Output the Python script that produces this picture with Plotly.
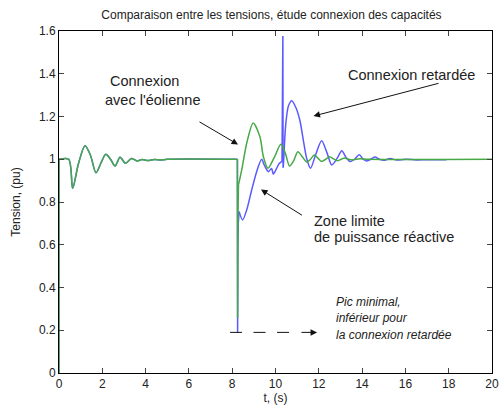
import plotly.graph_objects as go

# ---------------- data ----------------
# common part before the capacitor connection (both series identical, blue hidden under green)
start_t = [0, 0]
start_v = [0, 1]
pre_t = [0, 0.45, 0.63, 0.9, 1.2, 1.45, 1.71, 1.95, 2.16, 2.38, 2.59, 2.82, 3.08, 3.35, 3.6, 3.85, 4.1, 4.4, 4.7, 5.0, 8.24]
pre_v = [1, 1, 0.864, 0.98, 1.063, 1.02, 0.937, 0.985, 1.023, 1.0, 0.968, 1.009, 0.981, 1.004, 0.992, 0.999, 0.994, 0.999, 0.996, 1.0, 1.0]

# green: "Connexion avec l'éolienne"
gf_t = [8.24, 8.25, 8.26, 8.27, 8.29]
gf_v = [1, 0.256, 0.70, 0.76, 0.88]
gp_t = [8.29, 8.44, 8.67, 8.97, 9.28, 9.44, 9.65, 9.95, 10.25, 10.45, 10.65, 10.85, 11.03, 11.25, 11.44,
        11.62, 11.79, 11.96, 12.13, 12.32, 12.5, 12.68, 12.85, 13.03, 13.2, 13.38, 13.55, 13.72, 13.9, 14.3, 20]
gp_v = [0.88, 0.95, 1.075, 1.17, 1.105, 1.012, 0.958, 1.01, 1.07, 1.03, 0.968, 0.995, 1.035, 1.01, 0.987,
        1.0, 1.02, 1.005, 0.99, 1.0, 1.012, 1.002, 0.993, 1.0, 1.006, 1.0, 0.997, 1.0, 1.002, 1.0, 1.0]

# blue: "Connexion retardée"
bf_t = [8.24, 8.25, 8.26, 8.28, 8.32]
bf_v = [1, 0.19, 0.59, 0.70, 0.755]
bm_t = [8.32, 8.48, 8.67, 8.9, 9.13, 9.36, 9.48, 9.67, 9.82, 9.9, 10.05, 10.17, 10.3]
bm_v = [0.755, 0.716, 0.763, 0.856, 0.942, 1.0, 0.973, 0.942, 0.957, 0.93, 0.957, 0.98, 0.99]
bs_t = [10.3, 10.34, 10.35, 10.37]
bs_v = [0.99, 1.577, 0.96, 0.98]
bp_t = [10.37, 10.48, 10.6, 10.75, 10.95, 11.13, 11.3, 11.45, 11.62, 11.85, 12.13, 12.38, 12.6, 12.85,
        13.06, 13.25, 13.44, 13.65, 13.87, 14.05, 14.2, 14.4, 14.6, 14.8, 15.0, 15.3, 15.6, 16.0, 16.5, 17.0, 17.9]
bp_v = [0.98, 1.17, 1.25, 1.274, 1.24, 1.18, 1.08, 1.0, 0.958, 1.02, 1.087, 1.03, 0.973, 1.005,
        1.04, 1.01, 0.989, 1.0, 1.021, 1.0, 0.992, 1.0, 1.01, 1.0, 0.995, 1.003, 0.996, 1.0, 0.997, 0.998, 0.998]

x_ticks = [0, 2, 4, 6, 8, 10, 12, 14, 16, 18, 20]
y_ticks = [0, 0.2, 0.4, 0.6, 0.8, 1, 1.2, 1.4, 1.6]

GREEN = "#46a846"
BLUE = "#5a5aff"
FONT = "Liberation Sans"

fig = go.Figure()

def seg(t, v, color, shape):
    fig.add_trace(go.Scatter(
        x=t, y=v, mode="lines", showlegend=False, hoverinfo="skip",
        line=dict(color=color, width=1.5, shape=shape, smoothing=0.8 if shape == "spline" else None)))

# blue first (underneath)
seg(start_t, start_v, BLUE, "linear")
seg(pre_t, pre_v, BLUE, "spline")
seg(bf_t, bf_v, BLUE, "linear")
seg(bm_t, bm_v, BLUE, "spline")
seg(bs_t, bs_v, BLUE, "linear")
seg(bp_t, bp_v, BLUE, "spline")
# green on top
seg(start_t, start_v, GREEN, "linear")
seg(pre_t, pre_v, GREEN, "spline")
seg(gf_t, gf_v, GREEN, "linear")
seg(gp_t, gp_v, GREEN, "spline")

txt = dict(family=FONT, size=14.5, color="#222")
ann = []
def label(x, y, text, xanchor="center", font=txt):
    ann.append(dict(x=x, y=y, xref="x", yref="y", text=text, showarrow=False,
                    xanchor=xanchor, yanchor="middle", font=font))
def arrow(x, y, ax, ay):
    ann.append(dict(x=x, y=y, ax=ax, ay=ay, xref="x", yref="y", axref="x", ayref="y",
                    text="", showarrow=True, arrowhead=2, arrowsize=1.3, arrowwidth=1,
                    arrowcolor="#111", standoff=0))

label(3.95, 1.366, "Connexion")
label(4.30, 1.277, "avec l'éolienne")
label(16.28, 1.394, "Connexion retardée")
label(11.69, 0.711, "Zone limite", "left")
label(11.69, 0.635, "de puissance réactive", "left")
itxt = dict(family=FONT, size=12, color="#222")
label(12.70, 0.332, "<i>Pic minimal,</i>", "left", itxt)
label(12.70, 0.257, "<i>inférieur pour</i>", "left", itxt)
label(12.70, 0.178, "<i>la connexion retardée</i>", "left", itxt)

arrow(8.27, 1.069, 6.42, 1.179)
arrow(11.755, 1.202, 17.6, 1.357)
arrow(9.33, 0.858, 11.29, 0.734)
arrow(11.92, 0.19, 11.13, 0.19)

fig.add_shape(type="line", xref="x", yref="y", x0=7.9, x1=10.65, y0=0.19, y1=0.19,
              line=dict(color="#111", width=1, dash="12px,11.5px"))

axis_common = dict(showgrid=False, zeroline=False, showline=True, linecolor="black", linewidth=1,
                   ticks="inside", ticklen=5, tickcolor="#444", mirror="ticks", automargin=False,
                   tickfont=dict(family=FONT, size=12, color="#222"))

fig.update_layout(
    width=499, height=411,
    margin=dict(l=59, r=7, t=31, b=38),
    paper_bgcolor="white", plot_bgcolor="white",
    title=dict(text="Comparaison entre les tensions, étude connexion des capacités",
               x=0.544, xanchor="center", y=0.9635, yanchor="middle", xref="container", yref="container",
               font=dict(family=FONT, size=12, color="#222"), automargin=False),
    xaxis=dict(range=[0, 20], tickvals=x_ticks, title=dict(text="t, (s)", standoff=0,
               font=dict(family=FONT, size=12, color="#222")), **axis_common),
    yaxis=dict(range=[0, 1.6], tickvals=y_ticks, title=dict(text="Tension, (pu)", standoff=15,
               font=dict(family=FONT, size=12, color="#222")), **axis_common),
    annotations=ann,
)

fig.write_html("out.html", config={"displayModeBar": False},
               post_script="document.body.style.margin='0';document.body.style.overflow='hidden';")
